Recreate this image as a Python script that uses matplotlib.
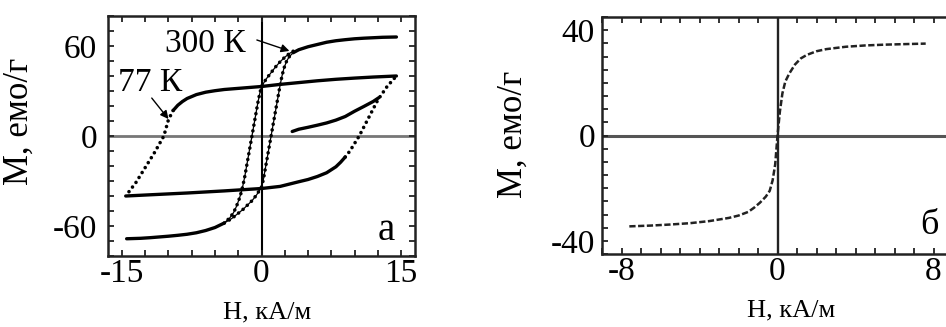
import matplotlib
matplotlib.use("Agg")
import matplotlib.pyplot as plt
from matplotlib.ticker import MultipleLocator, FixedLocator

plt.rcParams['font.family'] = ['Liberation Serif', 'DejaVu Serif']
plt.rcParams['axes.unicode_minus'] = False

# ---- panel а: hysteresis loops, H in kA/m, M in emu/g ----
# 300 K, flat upper part (shared by both branches)
h300_top = [14.5, 13, 12, 11, 10, 9, 8, 7, 6, 5, 4, 3.4]
m300_top = [66, 65.8, 65.5, 65.2, 64.8, 64.2, 63.5, 62.5, 61, 59.5, 57.5, 55.5]
# 300 K, flat lower part
h300_bot = [-14.5, -13, -12, -11, -10, -9, -8, -7, -6, -5, -4]
m300_bot = [-68.5, -68.2, -67.8, -67.3, -66.8, -66.2, -65.5, -64.5, -63, -61, -58]
# 300 K, steep descending branch
h300_down = [3.4, 3.0, 2.5, 2.0, 1.5, 1.0, 0.5, 0.0, -0.2, -0.4, -0.6, -0.8, -1.0,
             -1.2, -1.4, -1.6, -1.8, -2.0, -2.2, -2.4, -2.7, -3.0, -3.4, -4.0]
m300_down = [56.5, 55, 52.5, 49.5, 46, 42, 38, 33, 28, 22, 15, 8, 1,
             -6, -13, -20, -27, -33, -38, -42, -47, -51, -54.5, -58]
# 300 K, steep ascending branch
h300_up = [-4.0, -3.6, -3.2, -2.8, -2.4, -2.0, -1.5, -1.0, -0.5, 0.0, 0.2, 0.4, 0.6,
           0.8, 1.0, 1.2, 1.4, 1.6, 1.8, 2.0, 2.2, 2.4, 2.7, 3.0, 3.4]
m300_up = [-58, -56.5, -55, -53, -51, -49, -46, -43, -39, -34, -29, -22, -15,
           -8, -1, 6, 13, 20, 27, 34, 40, 45, 50, 53, 55.5]

# 77 K, upper branch (dense part, then sparse part)
h77_down = [14.5, 12, 10, 8, 6, 4, 2, 0, -2, -4, -5, -6, -7, -8, -8.5, -9, -9.5]
m77_down = [40, 39.3, 38.6, 37.8, 36.8, 35.6, 34.4, 33, 32, 31, 30.2, 29.2, 27.6, 25,
            23, 20.5, 17]
h77_down_sparse = [-9.5, -10, -10.5, -11.5, -12.5, -13.5, -14.6]
m77_down_sparse = [17, 11, 0, -11, -21, -31, -40]
# 77 K, lower branch
h77_up = [-14.6, -12, -10, -8, -6, -4, -2, 0, 2, 4, 5, 6, 7, 8, 8.5, 9]
m77_up = [-40, -39.2, -38.6, -38, -37.3, -36.6, -35.8, -35, -33.6, -30.5, -29, -27,
          -24.5, -20.5, -17.5, -14]
h77_up_sparse = [9, 9.5, 10.5, 11.5, 12.5, 13.5, 14.5]
m77_up_sparse = [-14, -10, 0, 12, 24, 33, 40]
# 77 K, initial magnetization curve
h77_init = [3.3, 4, 5, 6, 7, 8, 9, 10, 11, 12, 12.6]
m77_init = [3, 4.5, 5.8, 7.2, 8.7, 10.6, 13, 16.5, 19.7, 23, 25.5]

# ---- panel б: magnetization curve ----
h_b = [-7.6, -6.5, -5.5, -4.5, -3.5, -2.5, -2, -1.5, -1.2, -0.9, -0.6, -0.4, -0.25,
       -0.12, 0, 0.12, 0.25, 0.4, 0.6, 0.9, 1.2, 1.5, 2, 2.5, 3.5, 4.5, 5.5, 6.5, 7.6]
m_b = [-34.5, -34.2, -33.8, -33.3, -32.5, -31.3, -30.4, -29, -27.4, -25.5, -23.2,
       -21, -17, -11, 0, 9, 16, 20.5, 23.5, 27, 29.3, 30.6, 32, 32.8, 33.7, 34.2,
       34.5, 34.7, 34.9]

fig = plt.figure(figsize=(9.46, 3.27), dpi=100)
ax1 = fig.add_axes([0.1142, 0.2171, 0.3245, 0.734])
ax2 = fig.add_axes([0.6364, 0.2232, 0.371, 0.7248])

dense = dict(color='black', lw=2.4, solid_capstyle='round', zorder=3)
sparse = dict(color='black', lw=2.6, linestyle=(0, (0.01, 1.6)),
              dash_capstyle='round', zorder=3)


def style_axes(ax, xmaj, xmin, ymaj, ymin):
    ax.xaxis.set_major_locator(FixedLocator(xmaj))
    ax.xaxis.set_minor_locator(MultipleLocator(xmin))
    ax.yaxis.set_major_locator(FixedLocator(ymaj))
    ax.yaxis.set_minor_locator(MultipleLocator(ymin))
    ax.tick_params(which='both', direction='in', top=True, right=True,
                   length=4, width=1.3, color='#222')
    ax.tick_params(axis='both', labelsize=24)
    ax.tick_params(axis='x', pad=2)
    for s in ax.spines.values():
        s.set_linewidth(1.8)
        s.set_color('#222')


# panel а
ax1.axhline(0, color='#777', lw=2.0, zorder=1)
ax1.axvline(0, color='black', lw=1.5, zorder=1)

ax1.plot(h300_top, m300_top, **dense)
ax1.plot(h300_bot, m300_bot, **dense)
for h, m in [(h300_down, m300_down), (h300_up, m300_up)]:
    ax1.plot(h, m, color='black', lw=0.9, zorder=3)
    ax1.plot(h, m, **sparse)

ax1.plot(h77_down, m77_down, **dense)
ax1.plot(h77_down_sparse, m77_down_sparse, **sparse)
ax1.plot(h77_up, m77_up, **dense)
ax1.plot(h77_up_sparse, m77_up_sparse, **sparse)
ax1.plot(h77_init, m77_init, **dense)

ax1.set_xlim(-16.5, 16.5)
ax1.set_ylim(-80, 80)
style_axes(ax1, [-15, 0, 15], 2.5, [-60, 0, 60], 10)
ax1.tick_params(axis='y', pad=8)

ax1.text(-6.0, 61.3, '300 К', fontsize=24, ha='center', va='center')
ax1.annotate('', xy=(3.0, 56.7), xytext=(-0.5, 64),
             arrowprops=dict(arrowstyle='-|>', color='black', lw=1.0,
                             mutation_scale=12, shrinkA=0, shrinkB=0))
ax1.text(-12.0, 35.3, '77 К', fontsize=24, ha='center', va='center')
ax1.annotate('', xy=(-10.0, 11.3), xytext=(-11.8, 25.3),
             arrowprops=dict(arrowstyle='-|>', color='black', lw=1.0,
                             mutation_scale=12, shrinkA=0, shrinkB=0))
ax1.text(13.4, -63, 'а', fontsize=28, ha='center', va='center')

ax1.set_xlabel('Н, кА/м', fontsize=19)
ax1.set_ylabel('М, емо/г', fontsize=25)
ax1.xaxis.set_label_coords(0.518, -0.19)
ax1.yaxis.set_label_coords(-0.235, 0.56)

# panel б
ax2.axhline(0, color='#555', lw=2.2, zorder=1)
ax2.axvline(0, color='#222', lw=1.7, zorder=1)
ax2.plot(h_b, m_b, color='#222', lw=1.8, linestyle=(0, (2.5, 1.0)), zorder=3)

ax2.set_xlim(-9, 9)
ax2.set_ylim(-45, 45)
style_axes(ax2, [-8, 0, 8], 1, [-40, 0, 40], 5)
ax2.tick_params(axis='y', pad=5)

ax2.text(7.77, -34, 'б', fontsize=26, ha='center', va='center')

ax2.set_xlabel('Н, кА/м', fontsize=19)
ax2.set_ylabel('М, емо/г', fontsize=25)
ax2.xaxis.set_label_coords(0.538, -0.19)
ax2.yaxis.set_label_coords(-0.205, 0.506)

fig.savefig('out.png', dpi=100)
